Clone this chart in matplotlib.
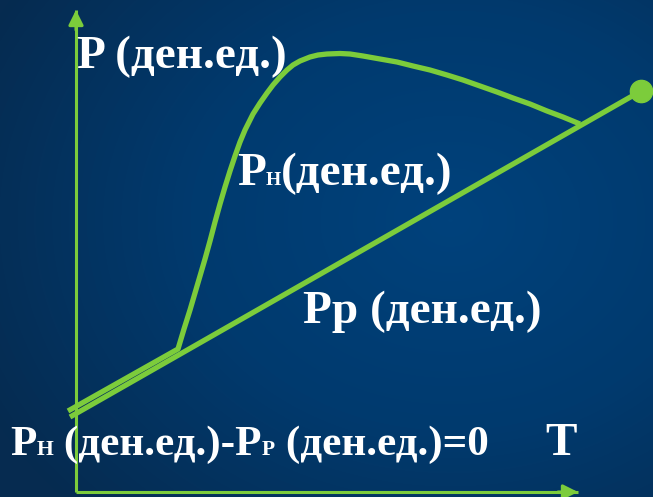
import numpy as np
import matplotlib
matplotlib.use("Agg")
import matplotlib.pyplot as plt
from matplotlib.colors import LinearSegmentedColormap

W, H = 653, 497

# ---- data (in a pixel-like coordinate system, y measured downward from top) ----
line_x = [70, 641]                 # Pp straight line
line_y = [417, 91]
curve_x = [68, 178, 184, 190, 195, 200, 205, 210, 215, 220, 225, 230, 235, 240, 245, 249, 253,
           260, 267, 273, 280, 287, 293, 300, 310, 318, 327, 340, 350, 363, 380, 397, 413,
           430, 447, 463, 480, 497, 513, 530, 547, 563, 580]
curve_y = [411, 349, 329, 310, 293, 276, 259, 241, 222, 204, 187, 171, 156, 142, 130, 122, 114,
           103, 93, 85, 77, 70, 65, 61, 57, 55, 54, 53.5, 54, 56, 59, 62, 66,
           70, 75, 80, 86, 92, 98, 104, 111, 117, 124]
yaxis_x = [76, 76]
yaxis_y = [492, 10]
xaxis_x = [76, 578]
xaxis_y = [492, 492]

labels = [
    # (left x, baseline y, [(text, size), ...])
    (77, 68, [("P (ден.ед.)", 34)]),
    (237, 185, [("P", 34), ("Н", 14), ("(ден.ед.)", 34)]),
    (303, 323, [("Pр (ден.ед.)", 34)]),
    (545, 455, [("T", 34)]),
]
bottom_label = (10, 455, 490, [("P", 34), ("Н", 17), (" (ден.ед.)-P", 34), ("Р", 17), (" (ден.ед.)=0", 34)])

GREEN = "#7ccc3b"

fig = plt.figure(figsize=(W / 100, H / 100), dpi=100)
ax = fig.add_axes([0, 0, 1, 1])
ax.set_xlim(0, W)
ax.set_ylim(H, 0)
ax.axis("off")

# background gradient
yy, xx = np.mgrid[0:H, 0:W]
d = np.sqrt(((xx - 450) / 520.0) ** 2 + ((yy - 220) / 420.0) ** 2)
d = np.clip(d, 0, 1)
cmap = LinearSegmentedColormap.from_list("bg", ["#00427c", "#013a6e", "#062b50"])
ax.imshow(d, cmap=cmap, extent=[0, W, H, 0], aspect="auto", zorder=0, vmin=0, vmax=1)

# axes arrows
ax.plot(yaxis_x, yaxis_y, color=GREEN, lw=2.2, zorder=2, solid_capstyle="butt")
ax.plot(xaxis_x, xaxis_y, color=GREEN, lw=2.2, zorder=2, solid_capstyle="butt")
ax.annotate("", xy=(yaxis_x[1], yaxis_y[1]), xytext=(yaxis_x[1], yaxis_y[1] + 20),
            arrowprops=dict(arrowstyle="-|>", color=GREEN, lw=2.2, mutation_scale=22,
                            shrinkA=0, shrinkB=0), zorder=2)
ax.annotate("", xy=(xaxis_x[1], xaxis_y[1]), xytext=(xaxis_x[1] - 20, xaxis_y[1]),
            arrowprops=dict(arrowstyle="-|>", color=GREEN, lw=2.2, mutation_scale=22,
                            shrinkA=0, shrinkB=0), zorder=2)

# curve and line
ax.plot(curve_x, curve_y, color=GREEN, lw=3.8, zorder=3, solid_joinstyle="round",
        solid_capstyle="butt")
ax.plot(line_x, line_y, color=GREEN, lw=3.8, zorder=3, solid_capstyle="butt")
ax.plot([line_x[1]], [line_y[1]], "o", color=GREEN, ms=16, zorder=4)

FONT = ["Liberation Serif", "DejaVu Serif"]
fig.canvas.draw()
renderer = fig.canvas.get_renderer()


def draw_pieces(x, y, pieces, scale=1.0):
    cur = x
    arts = []
    for s, size in pieces:
        t = ax.text(cur, y, s, fontsize=size * scale, family=FONT, weight="bold",
                    color="white", ha="left", va="baseline", zorder=5)
        bb = t.get_window_extent(renderer)
        cur = bb.x1  # display px == data x
        arts.append(t)
    return cur, arts


for x, y, pieces in labels:
    draw_pieces(x, y, pieces)

bx, by, bright, bpieces = bottom_label
end, arts = draw_pieces(bx, by, bpieces)
scale = (bright - bx) / (end - bx)
for a in arts:
    a.remove()
draw_pieces(bx, by, bpieces, scale)

fig.savefig("out.png", dpi=100)
